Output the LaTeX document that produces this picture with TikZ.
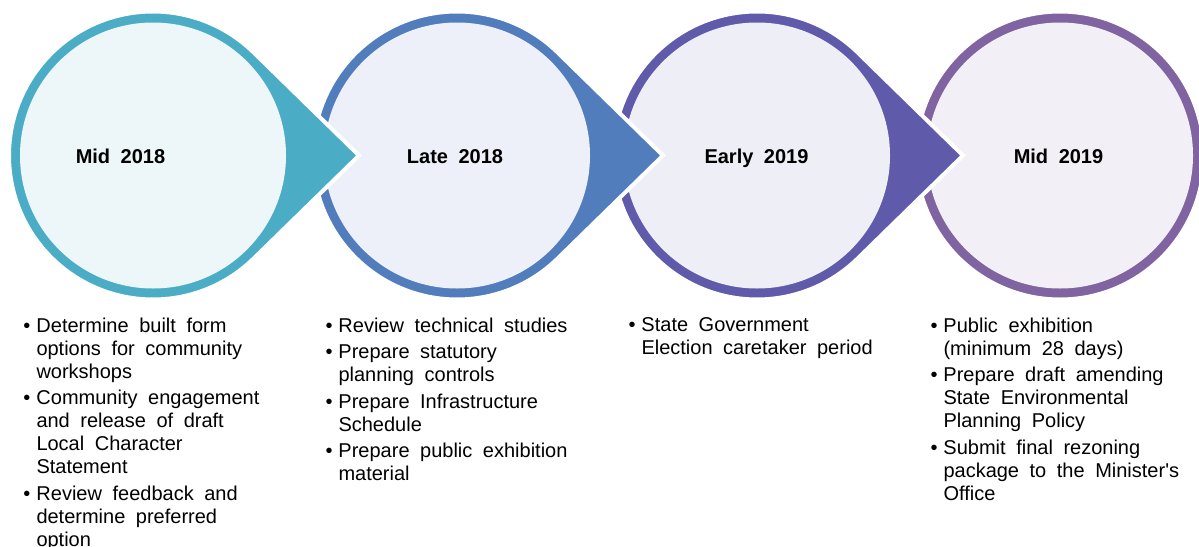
\documentclass[tikz,border=0pt]{standalone}
\usepackage{fontspec}
\setmainfont{Liberation Sans}[WordSpace=1.9]

\definecolor{tealRing}{RGB}{75,172,198}
\definecolor{tealFill}{RGB}{237,246,249}
\definecolor{blueRing}{RGB}{82,125,189}
\definecolor{blueFill}{RGB}{237,240,248}
\definecolor{indigoRing}{RGB}{95,91,170}
\definecolor{indigoFill}{RGB}{238,238,247}
\definecolor{plumRing}{RGB}{128,100,162}
\definecolor{plumFill}{RGB}{242,239,246}

\tikzset{every picture/.style={line width=0.75pt}}
\tikzset{
  drop/.style={draw=white, line width=3pt, line join=miter},
  when/.style={anchor=base, inner sep=0pt, font=\fontsize{15}{17.25}\selectfont\bfseries},
  todo/.style={anchor=north west, inner sep=0pt, align=left, font=\fontsize{15}{17.25}\selectfont},
}
\newcommand{\bul}{\llap{\textbullet\hskip 4.5pt}}

\begin{document}
\begin{tikzpicture}[x=0.75pt,y=0.75pt,yscale=-1,xscale=1]
	\useasboundingbox (0,0) rectangle (1199,546);

	%Shape: Circle (last stage, no pointer)
	\draw [drop, fill=plumRing] (1060,155.5) circle (144);
	\fill [plumFill] (1060,155.5) circle (133);
	%Shape: Teardrop (third stage)
	\draw [drop, fill=indigoRing] (963,155.5) -- (857.66,52.53) arc [start angle=-45.65, end angle=-314.35, radius=144] -- cycle;
	\fill [indigoFill] (757,155.5) circle (133);
	%Shape: Teardrop (second stage)
	\draw [drop, fill=blueRing] (663,155.5) -- (557.66,52.53) arc [start angle=-45.65, end angle=-314.35, radius=144] -- cycle;
	\fill [blueFill] (457,155.5) circle (133);
	%Shape: Teardrop (first stage)
	\draw [drop, fill=tealRing] (359,155.5) -- (253.66,52.53) arc [start angle=-45.65, end angle=-314.35, radius=144] -- cycle;
	\fill [tealFill] (153,155.5) circle (133);

	% Text Node
	\draw (120.5,163) node (midA) [when] {Mid 2018};
	% Text Node
	\draw (455,163) node (lateA) [when] {Late 2018};
	% Text Node
	\draw (756.5,163) node (earlyB) [when] {Early 2019};
	% Text Node
	\draw (1058.5,163) node (midB) [when] {Mid 2019};

	% Text Node
	\draw (36,317.5) node (tasksA) [todo] {\bul Determine built form\\
		options for community\\
		workshops\\[2.6pt]
		\bul Community engagement\\
		and release of draft\\
		Local Character\\
		Statement\\[2.6pt]
		\bul Review feedback and\\
		determine preferred\\
		option};
	% Text Node
	\draw (338,317.5) node (tasksB) [todo] {\bul Review technical studies\\[2.6pt]
		\bul Prepare statutory\\
		planning controls\\[2.6pt]
		\bul Prepare Infrastructure\\
		Schedule\\[2.6pt]
		\bul Prepare public exhibition\\
		material};
	% Text Node
	\draw (641,317.5) node (tasksC) [todo] {\bul State Government\\
		Election caretaker period};
	% Text Node
	\draw (943,317.5) node (tasksD) [todo] {\bul Public exhibition\\
		(minimum 28 days)\\[2.6pt]
		\bul Prepare draft amending\\
		State Environmental\\
		Planning Policy\\[2.6pt]
		\bul Submit final rezoning\\
		package to the Minister\textquotesingle s\\
		Office};

\end{tikzpicture}
\end{document}
